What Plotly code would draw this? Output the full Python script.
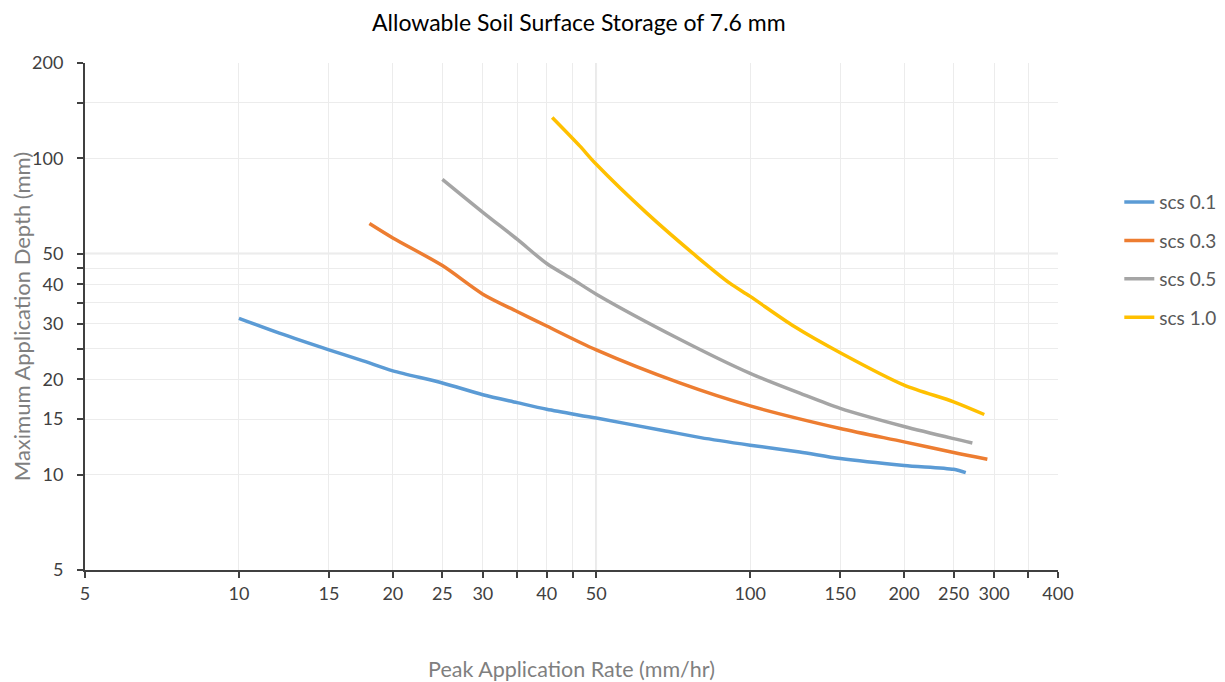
import plotly.graph_objects as go

# ---- data ----
series_names = ["scs 0.1", "scs 0.3", "scs 0.5", "scs 1.0"]

x_scs01 = [10, 12, 15, 17.5, 20, 25, 30, 35, 40, 50, 67.5, 80, 100, 125, 150, 200, 250, 264]
y_scs01 = [31.2, 28.0, 24.8, 22.9, 21.3, 19.5, 17.9, 16.9, 16.1, 15.1, 13.8, 13.1, 12.4, 11.8, 11.25, 10.7, 10.4, 10.15]

x_scs03 = [18, 20, 25, 30, 35, 40, 50, 72.8, 100, 150, 200, 250, 291]
y_scs03 = [62.2, 56.0, 45.8, 37.2, 32.8, 29.5, 24.8, 19.5, 16.5, 14.0, 12.7, 11.75, 11.2]

x_scs05 = [25, 30, 35, 40, 45, 50, 72.8, 100, 125, 150, 200, 250, 272]
y_scs05 = [85.8, 67.5, 55.5, 46.5, 41.4, 37.2, 26.8, 20.9, 18.1, 16.2, 14.2, 13.0, 12.6]

x_scs10 = [41, 46.4, 50, 62.7, 78.5, 91.2, 100, 122, 150, 200, 250, 287]
y_scs10 = [134.5, 109.4, 95.7, 67.2, 49.0, 40.3, 36.6, 29.4, 24.3, 19.2, 17.0, 15.5]

x_tickvals = [5, 10, 15, 20, 25, 30, 35, 40, 45, 50, 100, 150, 200, 250, 300, 350, 400]
x_ticktext = ["5", "10", "15", "20", "25", "30", "", "40", "", "50", "100", "150", "200", "250", "300", "", "400"]
y_tickvals = [5, 10, 15, 20, 25, 30, 35, 40, 45, 50, 100, 150, 200]
y_ticktext = ["5", "10", "15", "20", "", "30", "", "40", "", "50", "100", "", "200"]

colors = ["#5B9BD5", "#ED7D31", "#A5A5A5", "#FFC000"]

xs = [x_scs01, x_scs03, x_scs05, x_scs10]
ys = [y_scs01, y_scs03, y_scs05, y_scs10]

FONT = "Lato, 'Open Sans', sans-serif"

fig = go.Figure()
for i, name in enumerate(series_names):
    fig.add_trace(go.Scatter(
        x=xs[i], y=ys[i], name=name, mode="lines",
        line=dict(color=colors[i], width=3.5, shape="spline", smoothing=0.8),
        legendgroup=name,
    ))

axis_common = dict(
    type="log",
    showgrid=True, gridcolor="#ececec", gridwidth=1,
    showline=True, linecolor="#404040", linewidth=2,
    ticks="outside", ticklen=6, tickcolor="#404040", tickwidth=1.5,
    tickfont=dict(family=FONT, size=18, color="#404040"),
    zeroline=False, automargin=False,
)

fig.update_xaxes(
    **axis_common,
    range=[0.69897, 2.60206],
    tickmode="array", tickvals=x_tickvals, ticktext=x_ticktext,
    title=dict(text="Peak Application Rate (mm/hr)", standoff=61,
               font=dict(family=FONT, size=21.5, color="#7f7f7f")),
)
fig.update_yaxes(
    **axis_common,
    range=[0.69897, 2.30103],
    tickmode="array", tickvals=y_tickvals, ticktext=y_ticktext,
    ticklabelstandoff=10,
    title=dict(text="Maximum Application Depth (mm)", standoff=0,
               font=dict(family=FONT, size=22, color="#7f7f7f")),
)

# darker gridlines at 50 on both axes
fig.add_shape(type="line", xref="x", yref="paper", x0=50, x1=50, y0=0, y1=1,
              line=dict(color="#d4d4d4", width=1.5), layer="between")
fig.add_shape(type="line", xref="paper", yref="y", x0=0, x1=1, y0=50, y1=50,
              line=dict(color="#d4d4d4", width=1.5), layer="between")

# page body has an 8px margin, so the figure is shifted by 8px
fig.update_layout(
    width=1225, height=674,
    margin=dict(l=77, r=175, t=55, b=112),
    paper_bgcolor="white", plot_bgcolor="white",
    title=dict(text="Allowable Soil Surface Storage of 7.6 mm", x=0.466, xanchor="center",
               y=0.99, yanchor="top",
               font=dict(family=FONT, size=23, color="#000000")),
    legend=dict(x=1.063, xanchor="left", y=0.763, yanchor="top",
                font=dict(family=FONT, size=19, color="#595959"),
                tracegroupgap=10.7, traceorder="grouped",
                borderwidth=0,
                bgcolor="rgba(0,0,0,0)"),
    showlegend=True,
)

fig.write_html("out.html")
